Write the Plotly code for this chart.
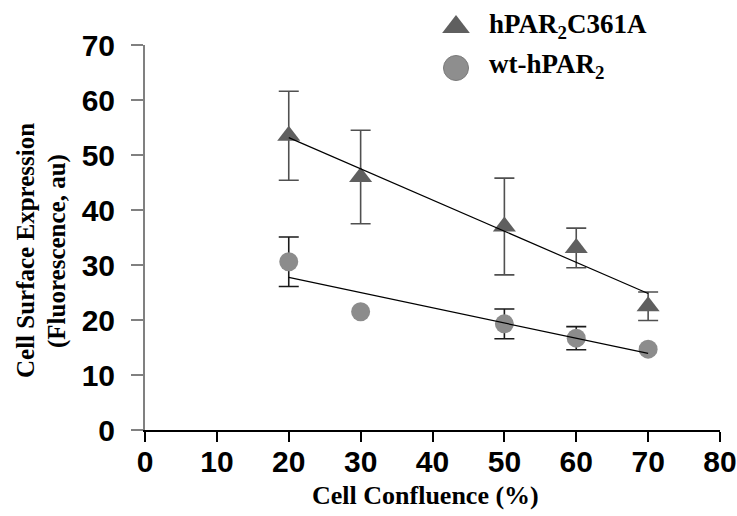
import numpy as np
import plotly.graph_objects as go

# ---- data ----
confluence = [20, 30, 50, 60, 70]
mutant_vals = [53.5, 46.0, 37.0, 33.1, 22.5]      # hPAR2C361A
mutant_err = [8.1, 8.5, 8.8, 3.6, 2.6]
wt_vals = [30.6, 21.5, 19.3, 16.7, 14.7]          # wt-hPAR2
wt_err = [4.5, None, 2.7, 2.1, None]

x_ticks = [0, 10, 20, 30, 40, 50, 60, 70, 80]
y_ticks = [0, 10, 20, 30, 40, 50, 60, 70]

series_names = ["hPAR<sub>2</sub>C361A", "wt-hPAR<sub>2</sub>"]
y_title_lines = ["Cell Surface Expression", "(Fluorescence, au)"]
x_title = "Cell Confluence (%)"

TRI_COLOR = "#5f5f5f"
CIR_COLOR = "#8c8c8c"
SERIF = "Liberation Serif, Times New Roman, serif"
SANS = "Liberation Sans, Arial, sans-serif"

# figure geometry (pixels)
W, H = 737, 516
ML, MR, MT, MB = 145, 17, 0, 86
PLOT_H = 385          # height of the data axes
AREA_H = H - MT - MB  # full area used by overlay axes


def px_y(py):
    """overlay-axis value for a pixel row measured from the top"""
    return H - py


def paper_x(px):
    return (px - ML) / (W - ML - MR)


def paper_y(py):
    return (AREA_H - py) / AREA_H


fig = go.Figure()

# error bars (only where the reference shows them)
fig.add_trace(go.Scatter(
    x=confluence, y=mutant_vals, mode="markers", marker=dict(size=0, opacity=0),
    error_y=dict(type="data", array=mutant_err, visible=True,
                 color="#505050", thickness=1.6, width=10),
    showlegend=False, hoverinfo="skip", cliponaxis=False))
wt_idx = [i for i, e in enumerate(wt_err) if e is not None]
fig.add_trace(go.Scatter(
    x=[confluence[i] for i in wt_idx], y=[wt_vals[i] for i in wt_idx],
    mode="markers", marker=dict(size=0, opacity=0),
    error_y=dict(type="data", array=[wt_err[i] for i in wt_idx], visible=True,
                 color="#1a1a1a", thickness=1.6, width=10),
    showlegend=False, hoverinfo="skip", cliponaxis=False))

# markers
fig.add_trace(go.Scatter(
    x=confluence, y=mutant_vals, mode="markers", name="hPAR2C361A",
    marker=dict(symbol="triangle-up", size=20, color=TRI_COLOR),
    showlegend=False, cliponaxis=False))
fig.add_trace(go.Scatter(
    x=confluence, y=wt_vals, mode="markers", name="wt-hPAR2",
    marker=dict(symbol="circle", size=19, color=CIR_COLOR),
    showlegend=False, cliponaxis=False))

# linear regression lines computed from the data
xs = np.array(confluence, dtype=float)
for vals in (mutant_vals, wt_vals):
    k, b = np.polyfit(xs, np.array(vals, dtype=float), 1)
    xl = np.array([xs.min(), xs.max()])
    fig.add_trace(go.Scatter(x=xl, y=k * xl + b, mode="lines",
                             line=dict(color="black", width=1.2),
                             showlegend=False, hoverinfo="skip"))

# legend symbols on an overlay axis measured in pixels
fig.add_trace(go.Scatter(x=[456], y=[px_y(27)], mode="markers",
                         marker=dict(symbol="triangle-up", size=24, color=TRI_COLOR),
                         xaxis="x2", yaxis="y2", cliponaxis=False, showlegend=False,
                         hoverinfo="skip"))
fig.add_trace(go.Scatter(x=[456], y=[px_y(68)], mode="markers",
                         marker=dict(symbol="circle", size=25, color="#8e8e8e",
                                     line=dict(color="#7a7a7a", width=1)),
                         xaxis="x2", yaxis="y2", cliponaxis=False, showlegend=False,
                         hoverinfo="skip"))

for name, py in zip(series_names, [26, 66]):
    fig.add_annotation(x=paper_x(487), y=paper_y(py), xref="paper", yref="paper",
                       xanchor="left", yanchor="middle", showarrow=False,
                       text=name, font=dict(family=SERIF, size=27, color="black", weight="bold"))

# axis titles
for line, px in zip(y_title_lines, [25, 57]):
    fig.add_annotation(x=paper_x(px), y=paper_y(251), xref="paper", yref="paper",
                       showarrow=False, textangle=-90, xanchor="center", yanchor="middle",
                       text=line,
                       font=dict(family=SERIF, size=25, color="black", weight="bold"))
fig.add_annotation(x=paper_x(425), y=paper_y(495), xref="paper", yref="paper", showarrow=False,
                   xanchor="center", yanchor="middle", text=x_title,
                   font=dict(family=SERIF, size=26, color="black", weight="bold"))

fig.update_layout(
    width=W, height=H,
    margin=dict(l=ML, r=MR, t=MT, b=MB, pad=0),
    paper_bgcolor="white", plot_bgcolor="rgba(0,0,0,0)",
    xaxis=dict(range=[0, 80], tickvals=x_ticks, ticks="outside", ticklen=10,
               tickwidth=1.5, tickcolor="black", showline=True, linecolor="black",
               linewidth=1.5, showgrid=False, zeroline=False, automargin=False,
               ticklabelstandoff=-6,
               tickfont=dict(family=SANS, size=30, color="black", weight="bold")),
    yaxis=dict(range=[0, 70], tickvals=y_ticks, ticks="outside", ticklen=12,
               domain=[0, PLOT_H / AREA_H],
               tickwidth=1.5, tickcolor="#808080", showline=True, linecolor="#808080",
               linewidth=2, showgrid=False, zeroline=False, ticklabelstandoff=10,
               automargin=False,
               tickfont=dict(family=SANS, size=30, color="black", weight="bold")),
    xaxis2=dict(range=[ML, W - MR], domain=[0, 1], anchor="y2", visible=False,
                fixedrange=True, automargin=False),
    yaxis2=dict(range=[MB, H - MT], domain=[0, 1], anchor="x2", visible=False,
                fixedrange=True, automargin=False),
    showlegend=False,
)

fig.write_html("out.html")
